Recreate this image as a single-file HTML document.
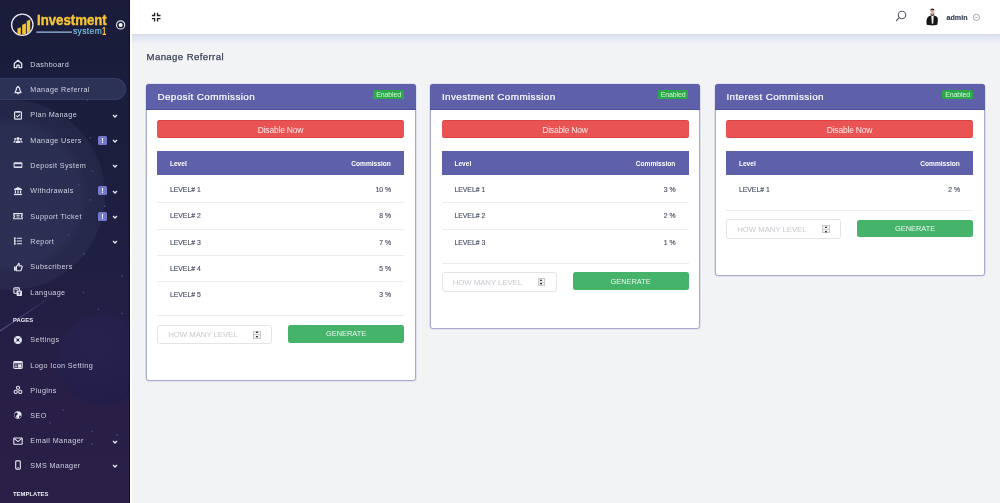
<!DOCTYPE html>
<html><head><meta charset="utf-8">
<style>
*{box-sizing:border-box;margin:0;padding:0}
html,body{width:1000px;height:503px;overflow:hidden}
#wrap{position:absolute;left:0;top:0;width:1000px;height:503px;will-change:transform}
body{font-family:"Liberation Sans",sans-serif;background:#f2f3f5;position:relative}
#sb{position:absolute;left:0;top:0;width:130px;height:503px;overflow:hidden;
 background:linear-gradient(180deg,#1a1c3a 0%,#1c1e3e 30%,#1f1f41 50%,#231e44 62%,#291f46 80%,#2a1f46 100%);border-right:1.5px solid #0f1024}
#sbedge{position:absolute;left:130px;top:34px;width:2px;height:469px;background:#fdfdfe}
#top{position:absolute;left:130px;top:0;width:870px;height:34px;background:#fff}
#shadow{position:absolute;left:132px;top:34px;width:868px;height:12px;
 background:linear-gradient(180deg,#d7dae1 0px,#dde2ee 1.5px,#e1e6f3 3.5px,#e6e9f3 6px,#eef0f4 8.5px,#f2f3f5 11px)}
.nav{position:absolute;left:0;width:130px;height:20px;color:#cfd1e2;font-size:7.2px;letter-spacing:.4px}
.nav .t{position:absolute;left:30.3px;top:.7px;line-height:20px;white-space:nowrap}
.nav .ic{position:absolute;left:13px;top:5px;width:10px;height:10px}
.nav .chev{position:absolute;left:112.2px;top:8px;width:6px;height:6px}
.nav .bd{position:absolute;left:98.2px;top:5.5px;width:8.5px;height:9px;background:#7378cc;border-radius:1.5px;color:#fff;font-size:7.5px;font-weight:bold;text-align:center;line-height:9px;letter-spacing:0}
.sec{position:absolute;left:12.9px;color:#ecedf5;font-size:5.8px;font-weight:bold;letter-spacing:.1px;line-height:8px}
#active{position:absolute;left:0;top:78.4px;width:126.4px;height:21.8px;background:#2c3156;border-radius:0 11px 11px 0;border:1px solid #373c64;border-left:none}
#logo1{position:absolute;left:36.6px;top:12.3px;font-size:15.2px;line-height:15.2px;font-weight:bold;color:#f5c535;transform:scaleX(.87);transform-origin:0 0;white-space:nowrap;-webkit-text-stroke:.45px #f5c535}
#logo2{position:absolute;left:72.9px;top:27.4px;font-size:8.4px;line-height:8.4px;color:#79bfe0;letter-spacing:.45px;-webkit-text-stroke:.2px #79bfe0}
#logo3{position:absolute;left:102.0px;top:26.8px;font-size:10.2px;line-height:10.2px;font-weight:bold;color:#f5c535;transform:scaleX(.75);transform-origin:0 0}
#sb .deco{position:absolute;border-radius:50%}
h1{position:absolute;left:146.5px;font-size:9.6px;line-height:9.6px;letter-spacing:.4px;font-weight:normal;color:#3a4155;white-space:nowrap;-webkit-text-stroke:.25px #3a4155}
.card{position:absolute;background:#fff;border:1px solid #a8aad0;border-radius:3px;box-shadow:0 0 0 .6px rgba(175,177,215,.5)}
.card .hd{position:absolute;left:-1px;top:-1px;right:-1px;height:26.4px;background:#5e60aa;border-radius:3px 3px 0 0;border-bottom:1.2px solid #4e509c}
.card .hd .ti{position:absolute;left:11.9px;color:#fff;font-size:9.9px;line-height:9.9px;letter-spacing:.4px;white-space:nowrap;-webkit-text-stroke:.2px #fff}
.card .hd .en{position:absolute;right:11.6px;top:6.4px;height:9.4px;width:30.5px;background:#2ca84b;border-radius:1.5px;color:#d2f5d8;font-size:7px;line-height:9.8px;text-align:center;letter-spacing:-.1px}
.btn-red{position:absolute;left:10.5px;right:10.5px;height:17.8px;background:#ea5353;border-radius:2.5px;border-top:1px solid #d84444;border-bottom:1px solid #d84444}
.btn-red span{position:absolute;left:0;right:0;text-align:center;color:#fde8e8;font-size:8.5px;line-height:8.5px;letter-spacing:-.2px}
.th{position:absolute;left:10.5px;right:10.5px;background:#5e60aa;color:#fff;font-size:6.6px;font-weight:bold}
.th span{position:absolute;line-height:6.6px}
.th .l{left:12.9px}
.th .r{right:13.2px}
.cl{position:absolute;left:23.4px;color:#4b5165;font-size:6.85px;line-height:6.85px;white-space:nowrap;-webkit-text-stroke:.15px #4b5165}
.cr{position:absolute;right:23.5px;color:#4b5165;font-size:6.85px;line-height:6.85px;white-space:nowrap;-webkit-text-stroke:.15px #4b5165}
.sep{position:absolute;left:10.5px;right:10.5px;height:1px;background:#ebecf0}
.inp{position:absolute;left:10.5px;width:115.4px;height:19.8px;border:1px solid #e3e4e9;border-radius:3px}
.inp .p{position:absolute;left:10.2px;color:#c8c9cf;font-size:7.8px;line-height:7.8px;letter-spacing:-.05px;white-space:nowrap}
.inp .sp{position:absolute;left:95.3px;top:4.9px;width:7.4px;height:8.2px;border:1px solid #c9c9cc;background:#f3f3f3}
.inp .sp:after{content:"";position:absolute;left:0;right:0;top:2.9px;height:.5px;background:#d0d0d0}
.inp .sp i{position:absolute;left:1.6px;width:0;height:0;border-left:1.6px solid transparent;border-right:1.6px solid transparent}
.inp .sp .u{top:-.1px;border-bottom:2.4px solid #000}
.inp .sp .d{top:4.4px;border-top:2.4px solid #000}
.btn-green{position:absolute;right:10.5px;width:115.8px;height:17.5px;background:#46b36b;border-radius:2.5px}
.btn-green span{position:absolute;left:0;right:0;text-align:center;color:#eaf7ee;font-size:7.4px;line-height:7.4px}
#search{position:absolute;left:895px;top:10px}
#admin{position:absolute;left:946.6px;font-size:7.1px;line-height:7.1px;font-weight:bold;color:#353c52;-webkit-text-stroke:.15px #353c52}
</style></head>
<body>
<div id="wrap">
<svg width="0" height="0" style="position:absolute">
 <defs>
  <symbol id="i-home" viewBox="0 0 10 10"><path d="M1.3 4.6 L5 1.2 L8.7 4.6 V8.6 H6.1 V6.2 H3.9 V8.6 H1.3 Z" fill="none" stroke="#e4e5f0" stroke-width="1.3" stroke-linejoin="round"/></symbol>
  <symbol id="i-bell" viewBox="0 0 10 10"><path d="M5 1.8 C3.6 1.8 3.3 3.2 3.2 5 L2 7.6 H8 L6.8 5 C6.7 3.2 6.4 1.8 5 1.8 Z" fill="none" stroke="#e4e5f0" stroke-width="1.2" stroke-linejoin="round"/><circle cx="5" cy="8.6" r="0.9" fill="#e4e5f0"/><rect x="4.4" y="0.9" width="1.2" height="1.2" fill="#e4e5f0"/></symbol>
  <symbol id="i-clip" viewBox="0 0 10 10"><rect x="1.6" y="1.8" width="6.8" height="7.4" rx="0.8" fill="none" stroke="#e4e5f0" stroke-width="1.2"/><rect x="3.5" y="1" width="3" height="1.6" fill="#e4e5f0"/><path d="M3.3 5.6 L4.5 6.8 L6.8 4.5" fill="none" stroke="#e4e5f0" stroke-width="1.1"/></symbol>
  <symbol id="i-users" viewBox="0 0 10 10"><circle cx="5" cy="3.4" r="1.5" fill="#e4e5f0"/><path d="M2.6 8 C2.8 6 3.8 5.3 5 5.3 C6.2 5.3 7.2 6 7.4 8 Z" fill="#e4e5f0"/><circle cx="2.2" cy="4" r="1.1" fill="#e4e5f0"/><circle cx="7.8" cy="4" r="1.1" fill="#e4e5f0"/><path d="M0.3 7.6 C0.5 6 1.2 5.5 2.2 5.5 L2.8 5.7 L2 7.6 Z M9.7 7.6 C9.5 6 8.8 5.5 7.8 5.5 L7.2 5.7 L8 7.6 Z" fill="#e4e5f0"/></symbol>
  <symbol id="i-card" viewBox="0 0 10 10"><rect x="0.6" y="2.2" width="8.8" height="5.8" rx="1.1" fill="#dcdde9"/><rect x="1.6" y="4.2" width="6.8" height="2.2" fill="#262850"/></symbol>
  <symbol id="i-bank" viewBox="0 0 10 10"><path d="M5 1 L9 3 V3.9 H1 V3 Z" fill="#e4e5f0"/><rect x="1.8" y="4.4" width="1.2" height="3" fill="#e4e5f0"/><rect x="4.4" y="4.4" width="1.2" height="3" fill="#e4e5f0"/><rect x="7" y="4.4" width="1.2" height="3" fill="#e4e5f0"/><rect x="1" y="7.8" width="8" height="1.3" fill="#e4e5f0"/></symbol>
  <symbol id="i-ticket" viewBox="0 0 10 10"><path d="M0.8 2.6 H9.2 V4.3 C8.5 4.4 8.3 4.8 8.3 5.2 C8.3 5.6 8.5 6 9.2 6.1 V7.8 H0.8 V6.1 C1.5 6 1.7 5.6 1.7 5.2 C1.7 4.8 1.5 4.4 0.8 4.3 Z" fill="none" stroke="#e4e5f0" stroke-width="1.1"/><path d="M3.5 4.4 H6.5 M3.5 6 H6.5" stroke="#e4e5f0" stroke-width="0.9"/></symbol>
  <symbol id="i-list" viewBox="0 0 10 10"><rect x="1" y="1.5" width="1.6" height="1.6" fill="#e4e5f0"/><rect x="1" y="4.2" width="1.6" height="1.6" fill="#e4e5f0"/><rect x="1" y="6.9" width="1.6" height="1.6" fill="#e4e5f0"/><path d="M3.8 2.3 H9 M3.8 5 H9 M3.8 7.7 H9" stroke="#e4e5f0" stroke-width="1.1"/><path d="M1.8 1.5 V8.5" stroke="#e4e5f0" stroke-width="1"/></symbol>
  <symbol id="i-thumb" viewBox="0 0 10 10"><path d="M1 4.6 H2.8 V8.8 H1 Z" fill="#e4e5f0"/><path d="M3.4 4.6 L5 2.6 C5.2 1.6 5.6 1.2 6.1 1.4 C6.6 1.7 6.4 2.8 6 3.9 H8.4 C9 3.9 9.3 4.4 9.1 5 L8.2 8.2 C8.1 8.6 7.8 8.8 7.4 8.8 H3.4 Z" fill="none" stroke="#e4e5f0" stroke-width="1.1" stroke-linejoin="round"/></symbol>
  <symbol id="i-lang" viewBox="0 0 10 10"><rect x="0.9" y="0.9" width="5.4" height="5.4" rx="0.7" fill="none" stroke="#e4e5f0" stroke-width="1.1"/><rect x="3.6" y="3.6" width="5.4" height="5.4" rx="0.7" fill="#e4e5f0"/><path d="M5 5.2 H7.6 M6.3 5 V7.8" stroke="#2a2b50" stroke-width="0.8"/><path d="M2.2 2.6 H5" stroke="#e4e5f0" stroke-width="0.8"/></symbol>
  <symbol id="i-settings" viewBox="0 0 10 10"><circle cx="4.9" cy="5" r="4" fill="#e8e9f3"/><circle cx="4.9" cy="5" r="1.3" fill="#1e1f45"/><path d="M2.1 2.2 L7.7 7.8 M7.7 2.2 L2.1 7.8" stroke="#1e1f45" stroke-width=".55"/></symbol>
  <symbol id="i-image" viewBox="0 0 10 10"><rect x="0.8" y="1.6" width="8.4" height="6.8" rx="0.8" fill="none" stroke="#e4e5f0" stroke-width="1.1"/><rect x="1.3" y="2" width="7.4" height="1.4" fill="#e4e5f0"/><rect x="4.8" y="4.3" width="3.5" height="3.3" fill="#e4e5f0"/><path d="M2 5 H4 M2 6.5 H4" stroke="#e4e5f0" stroke-width="0.8"/></symbol>
  <symbol id="i-plug" viewBox="0 0 10 10"><circle cx="5" cy="2.8" r="1.6" fill="none" stroke="#e4e5f0" stroke-width="1.1"/><circle cx="2.7" cy="6.9" r="1.6" fill="none" stroke="#e4e5f0" stroke-width="1.1"/><circle cx="7.3" cy="6.9" r="1.6" fill="none" stroke="#e4e5f0" stroke-width="1.1"/></symbol>
  <symbol id="i-globe" viewBox="0 0 10 10"><circle cx="4.9" cy="5" r="3.7" fill="#e8e9f3"/><path d="M3.2 2.6 C4.4 3 5 3.6 4.5 4.6 C4 5.4 3.2 5.2 3.1 6.2 C3 7 3.6 7.6 3.8 8.2 C2.3 7.6 1.5 6.4 1.4 5 C1.4 4 2.1 3.1 3.2 2.6 Z M6.4 5.6 C7 5.4 7.8 5.6 8.2 6.2 C7.8 7.2 7 7.9 6 8.3 C6 7.3 6.2 6.3 6.4 5.6 Z" fill="#1e1f45"/></symbol>
  <symbol id="i-mail" viewBox="0 0 10 10"><rect x="0.8" y="2" width="8.4" height="6.2" rx="0.5" fill="none" stroke="#e4e5f0" stroke-width="1.1"/><path d="M1 2.4 L5 5.6 L9 2.4" fill="none" stroke="#e4e5f0" stroke-width="1.1"/></symbol>
  <symbol id="i-phone" viewBox="0 0 10 10"><rect x="2.7" y="0.9" width="4.6" height="8.2" rx="0.8" fill="none" stroke="#e4e5f0" stroke-width="1.1"/><path d="M4.3 7.6 H5.7" stroke="#e4e5f0" stroke-width="0.8"/></symbol>
 </defs>
</svg>

<div id="sb">
 <div class="deco" style="left:-85px;top:100px;width:190px;height:190px;background:radial-gradient(circle,rgba(80,88,130,.30) 0%,rgba(80,88,130,.27) 52%,rgba(80,88,130,.17) 58%,rgba(80,88,130,.12) 86%,rgba(80,88,130,0) 92%)"></div>
 <div class="deco" style="left:57px;top:315px;width:90px;height:90px;background:radial-gradient(circle at 40% 30%,#28224f 0%,#231e4a 60%,#211c46 100%)"></div>
 <svg style="position:absolute;left:0;top:0" width="130" height="503"><defs><linearGradient id="sk" x1="0" y1="1" x2="1" y2="0"><stop offset="0" stop-color="#6d7bc0" stop-opacity=".55"/><stop offset="1" stop-color="#6d7bc0" stop-opacity="0"/></linearGradient></defs><path d="M0 331 L58 292" stroke="url(#sk)" stroke-width="1.2"/><circle cx="49.7" cy="79.1" r=".9" fill="#4a4e80" opacity=".8"/><circle cx="87.6" cy="100.2" r=".9" fill="#4a4e80" opacity=".8"/><circle cx="90.4" cy="137.8" r=".9" fill="#4a4e80" opacity=".8"/><circle cx="92.5" cy="171.3" r=".9" fill="#4a4e80" opacity=".8"/><circle cx="78.8" cy="184.8" r=".9" fill="#4a4e80" opacity=".8"/><circle cx="90.4" cy="199.8" r=".9" fill="#4a4e80" opacity=".8"/><circle cx="104.7" cy="206.2" r=".9" fill="#4a4e80" opacity=".8"/><circle cx="68.5" cy="234.7" r=".9" fill="#4a4e80" opacity=".8"/><circle cx="84" cy="254" r=".9" fill="#4a4e80" opacity=".8"/><circle cx="122" cy="276" r=".9" fill="#4a4e80" opacity=".8"/><circle cx="83.5" cy="292.4" r=".9" fill="#4a4e80" opacity=".8"/><circle cx="98.4" cy="309.3" r=".9" fill="#4a4e80" opacity=".8"/><circle cx="121.7" cy="313.3" r=".9" fill="#4a4e80" opacity=".8"/><circle cx="63" cy="409.8" r=".9" fill="#4a4e80" opacity=".8"/><circle cx="50" cy="422.8" r=".9" fill="#4a4e80" opacity=".8"/><circle cx="92.4" cy="431.3" r=".9" fill="#4a4e80" opacity=".8"/><circle cx="116.9" cy="435" r=".9" fill="#4a4e80" opacity=".8"/><circle cx="91.7" cy="444" r=".9" fill="#4a4e80" opacity=".8"/></svg>
 <div id="active"></div>
 <svg style="position:absolute;left:0;top:0" width="130" height="45">
  <circle cx="22.3" cy="24.75" r="10.7" fill="none" stroke="#e9e9f6" stroke-width="1.3"/>
  <clipPath id="cc"><circle cx="22.3" cy="24.75" r="10"/></clipPath>
  <g clip-path="url(#cc)" fill="#f4c534">
   <path d="M17.5 28.6 L20.8 27.2 V36 H17.5 Z"/>
   <path d="M22.2 24.8 L25.9 23.2 V36 H22.2 Z"/>
   <path d="M26.8 21 L30.2 19.6 V36 H26.8 Z"/>
  </g>
  <path d="M36.3 32.1 H72" stroke="#9cc4e6" stroke-width="1.4"/>
  <circle cx="120.6" cy="24.9" r="4.1" fill="none" stroke="#d9dae6" stroke-width="1.2"/>
  <circle cx="120.6" cy="24.9" r="2" fill="#fff"/>
 </svg>
 <div id="logo1">Investment</div>
 <div id="logo2">system</div>
 <div id="logo3">1</div>
 <div class="nav" style="top:54.2px"><svg class="ic"><use href="#i-home"/></svg><span class="t">Dashboard</span></div>
 <div class="nav" style="top:79.5px"><svg class="ic"><use href="#i-bell"/></svg><span class="t">Manage Referral</span></div>
 <div class="nav" style="top:104.8px"><svg class="ic"><use href="#i-clip"/></svg><span class="t">Plan Manage</span><svg class="chev" viewBox="0 0 6 6"><path d="M1 2 L3 4 L5 2" fill="none" stroke="#e8e9f2" stroke-width="1.3"/></svg></div>
 <div class="nav" style="top:130.1px"><svg class="ic"><use href="#i-users"/></svg><span class="t">Manage Users</span><span class="bd">!</span><svg class="chev" viewBox="0 0 6 6"><path d="M1 2 L3 4 L5 2" fill="none" stroke="#e8e9f2" stroke-width="1.3"/></svg></div>
 <div class="nav" style="top:155.4px"><svg class="ic"><use href="#i-card"/></svg><span class="t">Deposit System</span><svg class="chev" viewBox="0 0 6 6"><path d="M1 2 L3 4 L5 2" fill="none" stroke="#e8e9f2" stroke-width="1.3"/></svg></div>
 <div class="nav" style="top:180.7px"><svg class="ic"><use href="#i-bank"/></svg><span class="t">Withdrawals</span><span class="bd">!</span><svg class="chev" viewBox="0 0 6 6"><path d="M1 2 L3 4 L5 2" fill="none" stroke="#e8e9f2" stroke-width="1.3"/></svg></div>
 <div class="nav" style="top:206px"><svg class="ic"><use href="#i-ticket"/></svg><span class="t">Support Ticket</span><span class="bd">!</span><svg class="chev" viewBox="0 0 6 6"><path d="M1 2 L3 4 L5 2" fill="none" stroke="#e8e9f2" stroke-width="1.3"/></svg></div>
 <div class="nav" style="top:231.3px"><svg class="ic"><use href="#i-list"/></svg><span class="t">Report</span><svg class="chev" viewBox="0 0 6 6"><path d="M1 2 L3 4 L5 2" fill="none" stroke="#e8e9f2" stroke-width="1.3"/></svg></div>
 <div class="nav" style="top:256.6px"><svg class="ic"><use href="#i-thumb"/></svg><span class="t">Subscribers</span></div>
 <div class="nav" style="top:281.9px"><svg class="ic"><use href="#i-lang"/></svg><span class="t">Language</span></div>
 <div class="nav" style="top:329.6px"><svg class="ic"><use href="#i-settings"/></svg><span class="t">Settings</span></div>
 <div class="nav" style="top:355.0px"><svg class="ic"><use href="#i-image"/></svg><span class="t">Logo Icon Setting</span></div>
 <div class="nav" style="top:380.3px"><svg class="ic"><use href="#i-plug"/></svg><span class="t">Plugins</span></div>
 <div class="nav" style="top:405.2px"><svg class="ic"><use href="#i-globe"/></svg><span class="t">SEO</span></div>
 <div class="nav" style="top:430.6px"><svg class="ic"><use href="#i-mail"/></svg><span class="t">Email Manager</span><svg class="chev" viewBox="0 0 6 6"><path d="M1 2 L3 4 L5 2" fill="none" stroke="#e8e9f2" stroke-width="1.3"/></svg></div>
 <div class="nav" style="top:455.3px"><svg class="ic"><use href="#i-phone"/></svg><span class="t">SMS Manager</span><svg class="chev" viewBox="0 0 6 6"><path d="M1 2 L3 4 L5 2" fill="none" stroke="#e8e9f2" stroke-width="1.3"/></svg></div>
 <div class="sec" style="top:316.4px">PAGES</div>
 <div class="sec" style="top:490.1px">TEMPLATES</div>
</div>
<div id="sbedge"></div>
<div id="top">
 <svg style="position:absolute;left:20px;top:10px" width="14" height="14" viewBox="130 10 14 14">
 </svg>
</div>
<svg style="position:absolute;left:0;top:0" width="1000" height="34">
 <path d="M154.6 12.7 V15.5 H151.9 M157.5 12.7 V15.5 H160.5 M151.9 18.6 H154.6 V21.6 M160.5 18.6 H157.5 V21.6" fill="none" stroke="#1f2128" stroke-width="1.3"/>
 <circle cx="902" cy="15" r="3.7" fill="none" stroke="#565a66" stroke-width="1.1"/>
 <path d="M899.3 17.7 L896.4 20.6" stroke="#565a66" stroke-width="1.2" stroke-linecap="round"/>
 <circle cx="976.4" cy="17.4" r="3.1" fill="none" stroke="#8c91a3" stroke-width=".8"/>
 <path d="M975.2 16.9 L976.4 18.1 L977.6 16.9" fill="none" stroke="#8c91a3" stroke-width=".8"/>
 <g>
  <path d="M926.6 24.6 C926.2 21 926.6 17.8 928.6 16.6 C929.6 16 930.8 15.6 932.5 15.6 C934.2 15.6 935.4 16 936.4 16.6 C938.4 17.8 938 21 937.4 24.6 C935 25.8 929 25.8 926.6 24.6 Z" fill="#161616"/>
  <path d="M931.3 15.9 L933.7 15.9 L933.2 23.8 L931.9 23.8 Z" fill="#f4f4f4"/>
  <ellipse cx="932.4" cy="11.8" rx="1.9" ry="2.9" fill="#d6b0a4"/>
  <path d="M930.4 10.8 C930 7.6 934.8 7.6 934.4 10.8 C933.9 9.6 930.9 9.6 930.4 10.8 Z" fill="#2e1e18"/>
  <path d="M930.6 12.8 C930.7 15.4 934.1 15.4 934.2 12.8 L934.2 14.4 C933.6 16 931.2 16 930.6 14.4 Z" fill="#2e1a12"/>
 </g>
</svg>
<div id="admin" style="top:14.89px">admin</div>

<div id="shadow"></div>
<h1 style="top:52.37px">Manage Referral</h1>
<div class="card" style="left:145.5px;top:83.6px;width:270px;height:297.6px">
 <div class="hd"><div class="ti" style="top:8.62px">Deposit Commission</div><div class="en">Enabled</div></div>
 <div class="btn-red" style="top:35.4px"><span style="top:5.3px">Disable Now</span></div>
 <div class="th" style="top:66.6px;height:24.3px"><span class="l" style="top:10.21px">Level</span><span class="r" style="top:10.21px">Commission</span></div>
 <span class="cl" style="top:102.50px">LEVEL# 1</span><span class="cr" style="top:102.50px">10 %</span>
 <span class="cl" style="top:128.83px">LEVEL# 2</span><span class="cr" style="top:128.83px">8 %</span>
 <span class="cl" style="top:155.16px">LEVEL# 3</span><span class="cr" style="top:155.16px">7 %</span>
 <span class="cl" style="top:181.49px">LEVEL# 4</span><span class="cr" style="top:181.49px">5 %</span>
 <span class="cl" style="top:207.82px">LEVEL# 5</span><span class="cr" style="top:207.82px">3 %</span>
 <div class="sep" style="top:117.60px"></div>
 <div class="sep" style="top:143.93px"></div>
 <div class="sep" style="top:170.26px"></div>
 <div class="sep" style="top:196.59px"></div>
 <div class="sep" style="top:230.82px"></div>
 <div class="inp" style="top:240.02px"><span class="p" style="top:5.6px">HOW MANY LEVEL</span><span class="sp"><i class="u"></i><i class="d"></i></span></div>
 <div class="btn-green" style="top:240.52px"><span style="top:5.14px">GENERATE</span></div>
</div>
<div class="card" style="left:430.0px;top:83.6px;width:270px;height:245.0px">
 <div class="hd"><div class="ti" style="top:8.62px">Investment Commission</div><div class="en">Enabled</div></div>
 <div class="btn-red" style="top:35.4px"><span style="top:5.3px">Disable Now</span></div>
 <div class="th" style="top:66.6px;height:24.3px"><span class="l" style="top:10.21px">Level</span><span class="r" style="top:10.21px">Commission</span></div>
 <span class="cl" style="top:102.50px">LEVEL# 1</span><span class="cr" style="top:102.50px">3 %</span>
 <span class="cl" style="top:128.83px">LEVEL# 2</span><span class="cr" style="top:128.83px">2 %</span>
 <span class="cl" style="top:155.16px">LEVEL# 3</span><span class="cr" style="top:155.16px">1 %</span>
 <div class="sep" style="top:117.60px"></div>
 <div class="sep" style="top:143.93px"></div>
 <div class="sep" style="top:178.16px"></div>
 <div class="inp" style="top:187.36px"><span class="p" style="top:5.6px">HOW MANY LEVEL</span><span class="sp"><i class="u"></i><i class="d"></i></span></div>
 <div class="btn-green" style="top:187.86px"><span style="top:5.14px">GENERATE</span></div>
</div>
<div class="card" style="left:714.5px;top:83.6px;width:270px;height:192.3px">
 <div class="hd"><div class="ti" style="top:8.62px">Interest Commission</div><div class="en">Enabled</div></div>
 <div class="btn-red" style="top:35.4px"><span style="top:5.3px">Disable Now</span></div>
 <div class="th" style="top:66.6px;height:24.3px"><span class="l" style="top:10.21px">Level</span><span class="r" style="top:10.21px">Commission</span></div>
 <span class="cl" style="top:102.50px">LEVEL# 1</span><span class="cr" style="top:102.50px">2 %</span>
 <div class="sep" style="top:125.50px"></div>
 <div class="inp" style="top:134.70px"><span class="p" style="top:5.6px">HOW MANY LEVEL</span><span class="sp"><i class="u"></i><i class="d"></i></span></div>
 <div class="btn-green" style="top:135.20px"><span style="top:5.14px">GENERATE</span></div>
</div>

</div>
</body></html>
